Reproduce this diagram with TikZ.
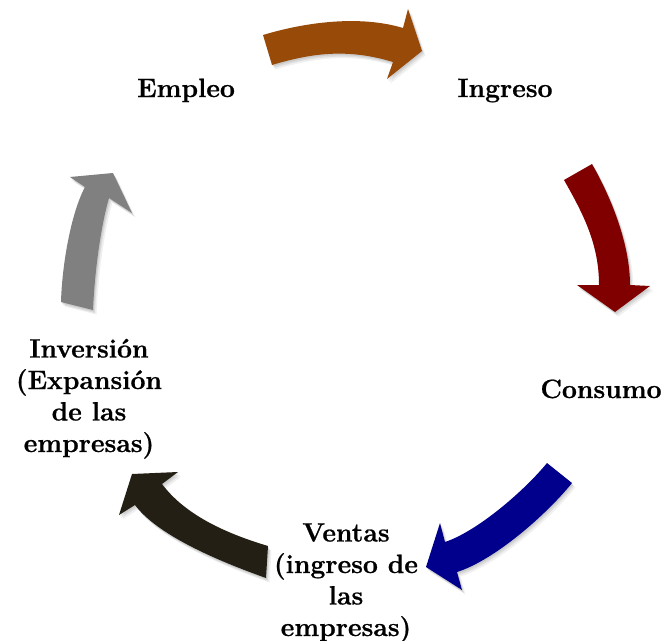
\documentclass[tikz,border=0pt]{standalone}
\usepackage{fontspec}
\setmainfont{Latin Modern Roman}[BoldFeatures={FakeBold=0.8}]
\definecolor{cbrown}{RGB}{152,74,8}
\definecolor{cred}{RGB}{128,0,0}
\definecolor{cblue}{RGB}{0,0,140}
\definecolor{cdark}{RGB}{35,31,20}
\definecolor{cgray}{RGB}{128,128,128}
\begin{document}
\begin{tikzpicture}[x=1pt,y=-1pt,
  lbl/.style={font=\fontsize{26.5}{31.5}\selectfont\bfseries, inner sep=0pt, align=center, anchor=base},
  blockarrow/.style={fill=#1, draw=none,
    preaction={fill=black, fill opacity=0.06, transform canvas={shift={(3.5pt,-4.5pt)}}},
    preaction={fill=black, fill opacity=0.08, transform canvas={shift={(2pt,-3pt)}}},
    preaction={fill=black, fill opacity=0.08, transform canvas={shift={(1pt,-1.5pt)}}}}]
\useasboundingbox[fill=white] (0,0) rectangle (669,640);
% text
\node[lbl] (empleo) at (186,97) {Empleo};
\node[lbl] (ingreso) at (505,97) {Ingreso};
\node[lbl] (consumo) at (601,398) {Consumo};
\node[lbl] (ventas) at (346,636) {Ventas\\(ingreso de\\las\\empresas)};
\node[lbl] (inversion) at (89,452) {Inversión\\(Expansión\\de las\\empresas)};
% arrows
\path[blockarrow=cbrown] (263,35) .. controls (306,22) and (360,15) .. (403,28) -- (408,9) -- (422,51) -- (387,79) -- (393,62) .. controls (350,49) and (315,52) .. (272,65) -- cycle;
\path[blockarrow=cred] (564,180) -- (592,164) .. controls (612,199) and (630,245) .. (630,285) -- (650,286) -- (615,312) -- (577,285) -- (599,285) .. controls (599,245) and (584,215) .. (564,180) -- cycle;
\path[blockarrow=cblue] (547,463) .. controls (525,490) and (478,531) .. (445,542) -- (440,523) -- (426,567) -- (462,590) -- (457,572) .. controls (495,560) and (547,514) .. (572,483) -- cycle;
\path[blockarrow=cdark] (132,474) -- (178,472) -- (162,484) .. controls (186,516) and (228,534) .. (268,546) -- (266,578) .. controls (224,563) and (159,537) .. (135,505) -- (119,515) -- cycle;
\path[blockarrow=cgray] (61,302) .. controls (62,265) and (71,213) .. (85,187) -- (70,177) -- (113,173) -- (132,213) -- (109,198) .. controls (102,222) and (95,265) .. (93,310) -- cycle;
\end{tikzpicture}
\end{document}
